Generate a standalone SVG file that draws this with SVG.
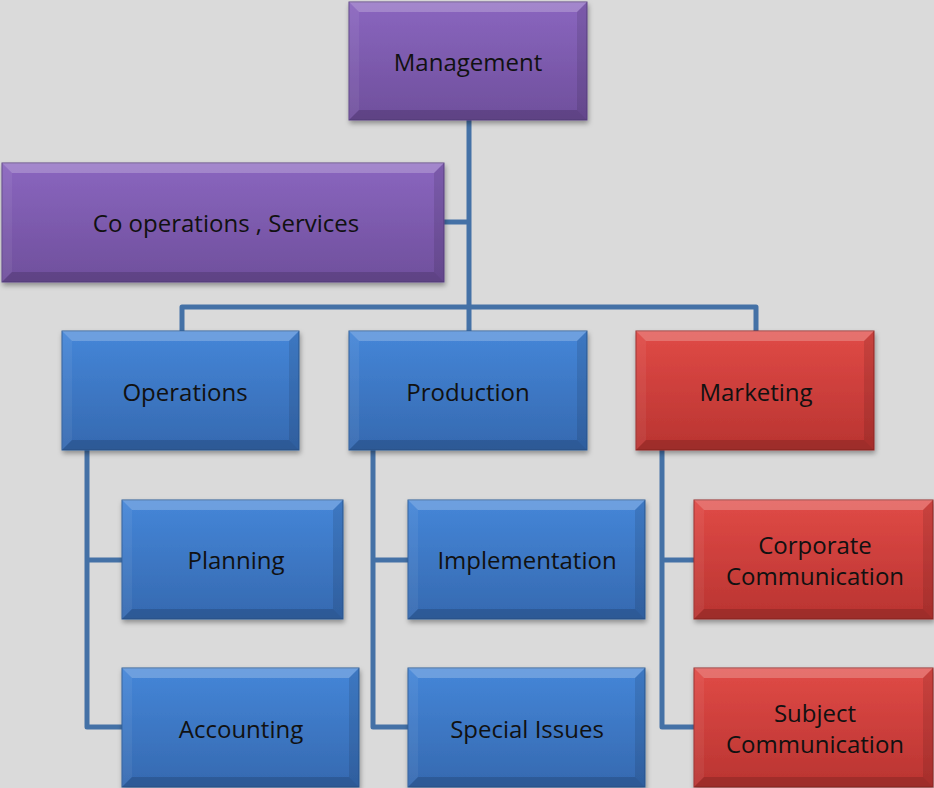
<svg xmlns="http://www.w3.org/2000/svg" width="934" height="788" viewBox="0 0 934 788">
<defs>
<linearGradient id="gp" x1="0" y1="0" x2="0" y2="1"><stop offset="0" stop-color="#8a66bf"/><stop offset="1" stop-color="#6f4f9c"/></linearGradient>
<linearGradient id="gb" x1="0" y1="0" x2="0" y2="1"><stop offset="0" stop-color="#4586d8"/><stop offset="1" stop-color="#3569b0"/></linearGradient>
<linearGradient id="gr" x1="0" y1="0" x2="0" y2="1"><stop offset="0" stop-color="#e04a46"/><stop offset="1" stop-color="#b93431"/></linearGradient>
<filter id="sh" x="-10%" y="-10%" width="125%" height="130%"><feDropShadow dx="1" dy="3" stdDeviation="2.5" flood-color="#000" flood-opacity="0.35"/></filter>
</defs>
<style>
.bg{fill:#dadada}
.p{fill:url(#gp);stroke:#5e4488;stroke-width:1}
.b{fill:url(#gb);stroke:#2f5d99;stroke-width:1}
.r{fill:url(#gr);stroke:#9a2b28;stroke-width:1}
.bt{fill:#fff;opacity:.22}
.bl{fill:#fff;opacity:.06}
.br{fill:#000;opacity:.1}
.bb{fill:#000;opacity:.15}
.c{fill:none;stroke:#4471a6;stroke-width:5;stroke-linejoin:round}
text{font-family:"Open Sans","Liberation Sans",sans-serif;font-size:24px;fill:#111;text-anchor:middle;dominant-baseline:central}
</style>
<rect class="bg" width="934" height="788"/>
<g id="connectors">
<path class="c" d="M469 120V331"/>
<path class="c" d="M444 222H469"/>
<path class="c" d="M182 331V307H756V331"/>
<path class="c" d="M87 450V727H122M87 560H122"/>
<path class="c" d="M373 450V727H408M373 560H408"/>
<path class="c" d="M662 450V727H694M662 560H694"/>
</g>
<g id="management">
<rect class="p" x="349" y="2" width="238" height="118" filter="url(#sh)"/>
<polygon class="bt" points="349,2 587,2 577,12 359,12"/><polygon class="bl" points="349,2 359,12 359,110 349,120"/><polygon class="br" points="587,2 587,120 577,110 577,12"/><polygon class="bb" points="349,120 587,120 577,110 359,110"/>
<text x="468" y="61">Management</text>
</g>
<g id="cooperations">
<rect class="p" x="2" y="163" width="442" height="119" filter="url(#sh)"/>
<polygon class="bt" points="2,163 444,163 434,173 12,173"/><polygon class="bl" points="2,163 12,173 12,272 2,282"/><polygon class="br" points="444,163 444,282 434,272 434,173"/><polygon class="bb" points="2,282 444,282 434,272 12,272"/>
<text x="226" y="222">Co operations , Services</text>
</g>
<g id="operations">
<rect class="b" x="62" y="331" width="237" height="119" filter="url(#sh)"/>
<polygon class="bt" points="62,331 299,331 289,341 72,341"/><polygon class="bl" points="62,331 72,341 72,440 62,450"/><polygon class="br" points="299,331 299,450 289,440 289,341"/><polygon class="bb" points="62,450 299,450 289,440 72,440"/>
<text x="185" y="391">Operations</text>
</g>
<g id="production">
<rect class="b" x="349" y="331" width="238" height="119" filter="url(#sh)"/>
<polygon class="bt" points="349,331 587,331 577,341 359,341"/><polygon class="bl" points="349,331 359,341 359,440 349,450"/><polygon class="br" points="587,331 587,450 577,440 577,341"/><polygon class="bb" points="349,450 587,450 577,440 359,440"/>
<text x="468" y="391">Production</text>
</g>
<g id="marketing">
<rect class="r" x="636" y="331" width="238" height="119" filter="url(#sh)"/>
<polygon class="bt" points="636,331 874,331 864,341 646,341"/><polygon class="bl" points="636,331 646,341 646,440 636,450"/><polygon class="br" points="874,331 874,450 864,440 864,341"/><polygon class="bb" points="636,450 874,450 864,440 646,440"/>
<text x="756" y="391">Marketing</text>
</g>
<g id="planning">
<rect class="b" x="122" y="500" width="221" height="119" filter="url(#sh)"/>
<polygon class="bt" points="122,500 343,500 333,510 132,510"/><polygon class="bl" points="122,500 132,510 132,609 122,619"/><polygon class="br" points="343,500 343,619 333,609 333,510"/><polygon class="bb" points="122,619 343,619 333,609 132,609"/>
<text x="236" y="559">Planning</text>
</g>
<g id="accounting">
<rect class="b" x="122" y="668" width="237" height="119" filter="url(#sh)"/>
<polygon class="bt" points="122,668 359,668 349,678 132,678"/><polygon class="bl" points="122,668 132,678 132,777 122,787"/><polygon class="br" points="359,668 359,787 349,777 349,678"/><polygon class="bb" points="122,787 359,787 349,777 132,777"/>
<text x="241" y="728">Accounting</text>
</g>
<g id="implementation">
<rect class="b" x="408" y="500" width="237" height="119" filter="url(#sh)"/>
<polygon class="bt" points="408,500 645,500 635,510 418,510"/><polygon class="bl" points="408,500 418,510 418,609 408,619"/><polygon class="br" points="645,500 645,619 635,609 635,510"/><polygon class="bb" points="408,619 645,619 635,609 418,609"/>
<text x="527" y="559">Implementation</text>
</g>
<g id="specialissues">
<rect class="b" x="408" y="668" width="237" height="119" filter="url(#sh)"/>
<polygon class="bt" points="408,668 645,668 635,678 418,678"/><polygon class="bl" points="408,668 418,678 418,777 408,787"/><polygon class="br" points="645,668 645,787 635,777 635,678"/><polygon class="bb" points="408,787 645,787 635,777 418,777"/>
<text x="527" y="728">Special Issues</text>
</g>
<g id="corporatecommunication">
<rect class="r" x="694" y="500" width="239" height="119" filter="url(#sh)"/>
<polygon class="bt" points="694,500 933,500 923,510 704,510"/><polygon class="bl" points="694,500 704,510 704,609 694,619"/><polygon class="br" points="933,500 933,619 923,609 923,510"/><polygon class="bb" points="694,619 933,619 923,609 704,609"/>
<text x="815" y="544">Corporate</text>
<text x="815" y="575">Communication</text>
</g>
<g id="subjectcommunication">
<rect class="r" x="694" y="668" width="239" height="119" filter="url(#sh)"/>
<polygon class="bt" points="694,668 933,668 923,678 704,678"/><polygon class="bl" points="694,668 704,678 704,777 694,787"/><polygon class="br" points="933,668 933,787 923,777 923,678"/><polygon class="bb" points="694,787 933,787 923,777 704,777"/>
<text x="815" y="712">Subject</text>
<text x="815" y="743">Communication</text>
</g>
</svg>
